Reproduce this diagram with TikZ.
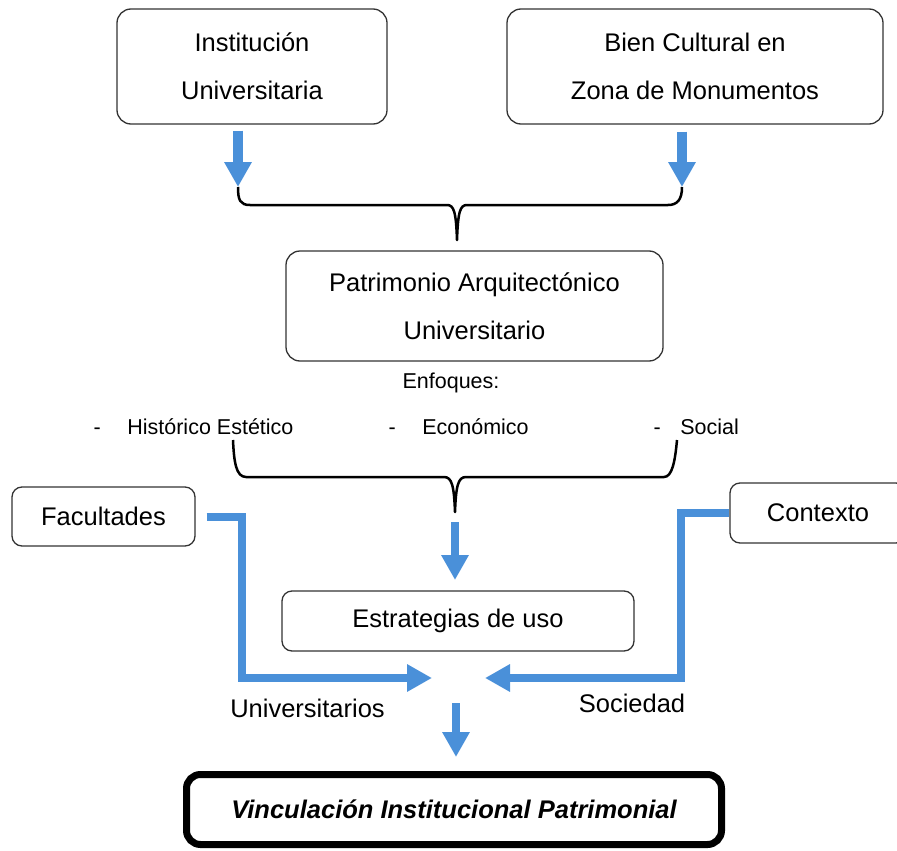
\documentclass[tikz,border=0pt]{standalone}
\usepackage{fontspec}
\setmainfont{Liberation Sans}
\usepackage{xcolor}
\usepackage{tikz}
\usetikzlibrary{arrows.meta, positioning}
\definecolor{azul}{RGB}{74,144,217}

\begin{document}
\begin{tikzpicture}[
        x=1pt, y=-1pt,
        box/.style={draw=black!80, line width=1.3pt, rounded corners=14pt, align=center, inner sep=0pt, font=\fontsize{25.5}{48}\selectfont},
        smallbox/.style={draw=black!80, line width=1.3pt, rounded corners=10pt, align=center, inner sep=0pt, font=\fontsize{25.5}{30}\selectfont},
        bigbox/.style={draw, line width=7pt, rounded corners=14pt, inner sep=0pt, font=\fontsize{25.5}{30}\selectfont\bfseries\itshape},
        note/.style={inner sep=0pt, font=\fontsize{21.5}{26}\selectfont},
        tag/.style={inner sep=0pt, font=\fontsize{25.5}{30}\selectfont},
        flecha/.style={draw=azul, line width=8pt, -{Triangle[width=26pt, length=25pt]}},
        llave/.style={draw, line width=2.5pt, line join=round}
    ]
        \useasboundingbox (0,0) rectangle (897,851);

        \node[box, minimum width=270pt, minimum height=115pt] (inst) at (252,66.5) {Institución\\Universitaria};
        \node[box, minimum width=376pt, minimum height=115pt] (bien) at (695,66.5) {Bien Cultural en\\Zona de Monumentos};
        \node[box, minimum width=377pt, minimum height=110pt] (patr) at (474.5,306) {Patrimonio Arquitectónico\\Universitario};
        \node[note] (enf) at (451,383) {Enfoques:};
        \node[note, anchor=west] (hist) at (93.5,427) {-\hspace{26.5pt}Histórico Estético};
        \node[note, anchor=west] (econ) at (388.5,427) {-\hspace{26.5pt}Económico};
        \node[note, anchor=west] (soc) at (653.5,427) {-\hspace{19.5pt}Social};
        \node[smallbox, minimum width=183pt, minimum height=59pt] (fac) at (103.5,516.5) {Facultades};
        \node[smallbox, minimum width=176pt, minimum height=60pt] (ctx) at (818,513) {Contexto};
        \node[smallbox, minimum width=352pt, minimum height=60pt] (estr) at (458,621) {Estrategias de uso};
        \node[tag] (univ) at (307.5,708) {Universitarios};
        \node[tag] (soci) at (632,703) {Sociedad};
        \node[bigbox, minimum width=535pt, minimum height=70pt] (vinc) at (454,809.5) {Vinculación Institucional Patrimonial};

        \coordinate (b1l) at (238,187);
        \coordinate (b1r) at (682,187);
        \coordinate (b1tip) at (457,240);
        \coordinate (b2l) at (233,440);
        \coordinate (b2r) at (677,440);
        \coordinate (b2tip) at (455,512);
        \coordinate (c1) at (455,580);
        \coordinate (uTip) at (432,678);
        \coordinate (sTip) at (485,678);
        \coordinate (v0) at (456,703);

        \draw[llave] (b1l) .. controls (238,200) and (240,205) .. (250,205) -- (447,205) .. controls (454,205) and (456,212) .. (b1tip) .. controls (458,212) and (460,205) .. (467,205) -- (668,205) .. controls (677,205) and (682,200) .. (b1r);
        \draw[llave] (b2l) .. controls (234,462) and (236,477) .. (246,477) -- (444,477) .. controls (452,477) and (454,486) .. (b2tip) .. controls (456,486) and (458,477) .. (466,477) -- (664,477) .. controls (672,477) and (675,462) .. (b2r);

        \draw[flecha, line width=10pt] ([yshift=-6pt]inst.south -| b1l) -- (b1l);
        \draw[flecha, line width=10pt] ([yshift=-7pt]bien.south -| b1r) -- (b1r);
        \draw[flecha] ([yshift=-10pt]b2tip) -- (c1);
        \draw[flecha] ([xshift=11pt]fac.east) -- ++(35,0) |- (uTip);
        \draw[flecha] (ctx.west) -- ++(-48,0) |- (sTip);
        \draw[flecha] (v0) -- ([yshift=14pt]vinc.north -| v0);
    \end{tikzpicture}
\end{document}
